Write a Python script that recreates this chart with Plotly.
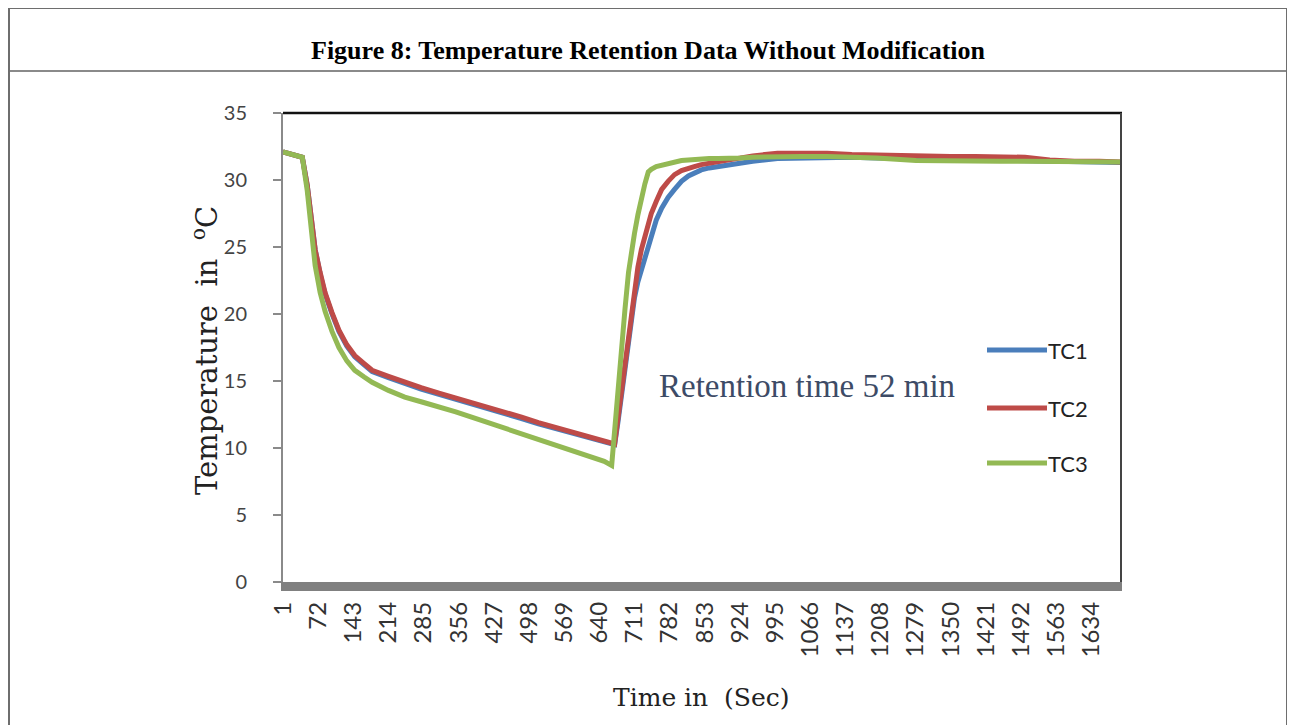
import plotly.graph_objects as go

# ---------------- data ----------------
time_idx = [1, 20, 40, 50, 58, 66, 76, 86, 100, 114, 130, 146, 165, 181, 214, 247, 280, 316,
            350, 382, 415, 449, 483, 517, 550, 584, 625, 650, 665, 671, 678, 685, 692, 699,
            705, 711, 718, 725, 732, 739, 745, 755, 766, 779, 792, 806, 820, 832, 846, 862,
            880, 900, 925, 950, 1000, 1050, 1100, 1150, 1200, 1280, 1350, 1400, 1450, 1500,
            1550, 1600, 1650, 1695]

tc1 = [32.1, 31.9, 31.7, 29.6, 27.2, 24.8, 23.0, 21.5, 20.0, 18.7, 17.6, 16.8, 16.2, 15.7, 15.25,
       14.8, 14.4, 14.0, 13.65, 13.3, 12.95, 12.6, 12.2, 11.8, 11.45, 11.1, 10.7, 10.45, 10.3, 10.25,
       12.0, 14.0, 16.2, 18.2, 19.8, 21.2, 22.4, 23.3, 24.3, 25.2, 26.0, 27.0, 27.9, 28.7, 29.3,
       29.9, 30.3, 30.55, 30.75, 30.9, 31.0, 31.15, 31.3, 31.4, 31.6, 31.65, 31.7, 31.7, 31.65,
       31.6, 31.6, 31.55, 31.5, 31.5, 31.45, 31.4, 31.35, 31.3]

tc2 = [32.1, 31.9, 31.7, 29.6, 27.2, 24.8, 23.1, 21.6, 20.1, 18.8, 17.7, 16.9, 16.3, 15.8, 15.35,
       14.9, 14.5, 14.1, 13.75, 13.4, 13.05, 12.7, 12.3, 11.9, 11.55, 11.2, 10.8, 10.55, 10.4, 10.3,
       12.3, 14.3, 16.5, 18.6, 20.4, 22.0, 23.5, 24.8, 25.8, 26.8, 27.5, 28.4, 29.3, 29.9, 30.4,
       30.7, 30.9, 31.0, 31.15, 31.25, 31.35, 31.5, 31.65, 31.8, 32.0, 32.0, 32.0, 31.9, 31.85,
       31.8, 31.75, 31.75, 31.7, 31.7, 31.5, 31.4, 31.4, 31.35]

tc3 = [32.1, 31.9, 31.7, 29.2, 26.3, 23.6, 21.6, 20.2, 18.7, 17.5, 16.5, 15.8, 15.3, 14.9, 14.3,
       13.8, 13.45, 13.1, 12.7, 12.3, 11.9, 11.5, 11.05, 10.6, 10.2, 9.85, 9.3, 9.0, 8.7, 11.5,
       14.3, 17.4, 20.4, 23.1, 24.7, 26.0, 27.4, 28.7, 29.7, 30.6, 30.8, 31.0, 31.1, 31.25, 31.35,
       31.45, 31.5, 31.55, 31.6, 31.6, 31.6, 31.6, 31.65, 31.7, 31.75, 31.75, 31.75, 31.7, 31.65,
       31.45, 31.4, 31.4, 31.4, 31.4, 31.4, 31.4, 31.35, 31.35]

series_names = ["TC1", "TC2", "TC3"]
series_values = [tc1, tc2, tc3]
x_tick_labels = [1, 72, 143, 214, 285, 356, 427, 498, 569, 640, 711, 782, 853, 924, 995,
                 1066, 1137, 1208, 1279, 1350, 1421, 1492, 1563, 1634]
y_tick_labels = [0, 5, 10, 15, 20, 25, 30, 35]

title_text = "Figure 8: Temperature Retention Data Without Modification"
y_title_text = "Temperature  in  <sup>o</sup>C"
x_title_text = "Time in  (Sec)"
note_text = "Retention time 52 min"

# ---------------- styles / layout geometry ----------------
OFF = 8                      # the page body margin shifts the figure by 8 px
W, H = 1295 - OFF, 725 - OFF
PL, PR, PT, PB = 283, 1121, 113, 582   # plot area in window pixels
colors = ["#4A7EBB", "#BE4B48", "#93B954"]


def px(x):
    return (x - OFF) / W


def py(y):
    return 1 - (y - OFF) / H


assert all(len(v) == len(time_idx) for v in series_values)

fig = go.Figure()
for name, vals, col in zip(series_names, series_values, colors):
    fig.add_trace(go.Scatter(x=time_idx, y=vals, mode="lines", name=name,
                             line=dict(color=col, width=5), showlegend=False))

shapes = []
# outer table frame
frame_col = "#6e6e6e"
shapes.append(dict(type="line", xref="paper", yref="paper", x0=px(8), x1=px(1287), y0=py(8), y1=py(8),
                   line=dict(color=frame_col, width=2)))
shapes.append(dict(type="line", xref="paper", yref="paper", x0=px(8), x1=px(1287), y0=py(71), y1=py(71),
                   line=dict(color="#8a8a8a", width=2)))
shapes.append(dict(type="line", xref="paper", yref="paper", x0=px(9), x1=px(9), y0=py(8), y1=py(730),
                   line=dict(color=frame_col, width=2)))
shapes.append(dict(type="line", xref="paper", yref="paper", x0=px(1287), x1=px(1287), y0=py(8), y1=py(730),
                   line=dict(color=frame_col, width=2)))
# plot-area border (top black, right dark)
shapes.append(dict(type="line", xref="paper", yref="paper", x0=px(PL), x1=px(PR + 1), y0=py(PT), y1=py(PT),
                   line=dict(color="#111111", width=2.5)))
shapes.append(dict(type="line", xref="paper", yref="paper", x0=px(PR), x1=px(PR), y0=py(PT), y1=py(PB),
                   line=dict(color="#444444", width=2)))
# thick gray floor bar along the category axis
shapes.append(dict(type="rect", xref="paper", yref="paper", x0=px(PL - 2), x1=px(PR + 1), y0=py(591), y1=py(PB),
                   fillcolor="#808080", line=dict(width=0), layer="above"))

annotations = [
    dict(text=f"<b>{title_text}</b>", xref="paper", yref="paper", x=px(648), y=py(51),
         xanchor="center", yanchor="middle", showarrow=False,
         font=dict(family="Liberation Serif, Times New Roman, serif", size=26, color="#000000")),
    dict(text=y_title_text, xref="paper", yref="paper", x=px(205), y=py(350), textangle=-90,
         xanchor="center", yanchor="middle", showarrow=False,
         font=dict(family="DejaVu Serif, serif", size=29, color="#222222")),
    dict(text=x_title_text, xref="paper", yref="paper", x=px(701), y=py(697),
         xanchor="center", yanchor="middle", showarrow=False,
         font=dict(family="DejaVu Serif, serif", size=25, color="#222222")),
    dict(text=note_text, xref="paper", yref="paper", x=px(657), y=py(386),
         xanchor="left", yanchor="middle", showarrow=False,
         font=dict(family="Liberation Serif, serif", size=33, color="#3d4b66")),
]

# legend drawn as line samples + labels
legend_y = [350, 408, 463]
for name, col, ly in zip(series_names, colors, legend_y):
    shapes.append(dict(type="line", xref="paper", yref="paper", x0=px(987), x1=px(1047), y0=py(ly), y1=py(ly),
                       line=dict(color=col, width=5)))
    annotations.append(dict(text=name, xref="paper", yref="paper", x=px(1046), y=py(ly),
                            xanchor="left", yanchor="middle", showarrow=False,
                            font=dict(family="Lato, Liberation Sans, sans-serif", size=22, color="#222222")))

fig.update_layout(
    width=W, height=H, autosize=False,
    margin=dict(l=0, r=0, t=0, b=0),
    paper_bgcolor="white", plot_bgcolor="white",
    showlegend=False,
    shapes=shapes, annotations=annotations,
    xaxis=dict(domain=[px(PL), px(PR)], range=[1, 1694], automargin=False,
               tickmode="array", tickvals=x_tick_labels, ticktext=[str(v) for v in x_tick_labels],
               tickangle=-90, ticks="", showgrid=False, zeroline=False, showline=False,
               ticklabelstandoff=14,
               tickfont=dict(family="Lato, Liberation Sans, sans-serif", size=24, color="#333333")),
    yaxis=dict(domain=[py(PB), py(PT)], range=[0, 35], automargin=False,
               tickmode="array", tickvals=y_tick_labels, ticktext=[str(v) for v in y_tick_labels],
               ticks="outside", ticklen=8, tickwidth=1.5, tickcolor="#8a8a8a",
               showline=True, linecolor="#8a8a8a", linewidth=2,
               showgrid=False, zeroline=False, ticklabelstandoff=22,
               tickfont=dict(family="Lato, Liberation Sans, sans-serif", size=20, color="#444444")),
)

fig.write_html("out.html")
